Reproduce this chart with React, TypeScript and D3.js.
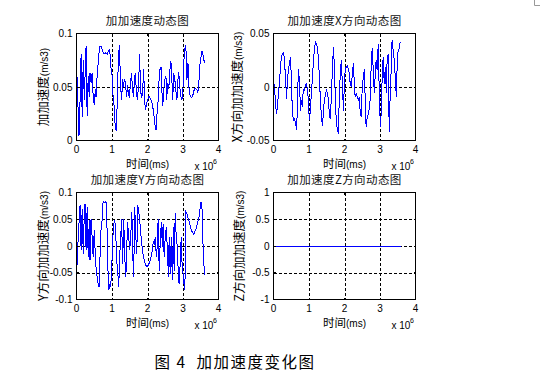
import React from "react";
import * as d3 from "d3";

// ---- data (time in units of 10^6 ms, jerk in m/s^3) ----
const jerkTotal: [number, number][] = [
  [0.00, 0.074], [0.07, 0.004], [0.09, 0.023], [0.13, 0.081], [0.16, 0.022], [0.19, 0.075], [0.22, 0.038], [0.24, 0.060],
  [0.27, 0.088], [0.30, 0.023], [0.33, 0.060], [0.36, 0.041], [0.38, 0.063], [0.41, 0.054], [0.44, 0.063], [0.47, 0.041],
  [0.50, 0.033], [0.53, 0.048], [0.55, 0.041], [0.58, 0.060], [0.61, 0.072], [0.65, 0.088], [0.69, 0.088], [0.73, 0.084],
  [0.78, 0.081], [0.83, 0.082], [0.87, 0.081], [0.92, 0.085], [0.95, 0.080], [0.98, 0.063], [1.01, 0.060], [1.03, 0.041],
  [1.07, 0.029], [1.09, 0.012], [1.12, 0.009], [1.15, 0.038], [1.18, 0.078], [1.21, 0.089], [1.24, 0.051], [1.27, 0.038],
  [1.30, 0.057], [1.32, 0.050], [1.35, 0.057], [1.38, 0.054], [1.41, 0.041], [1.44, 0.052], [1.46, 0.044], [1.49, 0.040],
  [1.52, 0.054], [1.55, 0.063], [1.58, 0.047], [1.61, 0.041], [1.63, 0.057], [1.66, 0.063], [1.69, 0.043], [1.72, 0.038],
  [1.75, 0.054], [1.78, 0.081], [1.80, 0.048], [1.83, 0.041], [1.86, 0.043], [1.89, 0.067], [1.92, 0.037], [1.94, 0.029],
  [1.97, 0.033], [2.00, 0.038], [2.04, 0.041], [2.07, 0.040], [2.13, 0.035], [2.17, 0.027], [2.21, 0.015], [2.24, 0.010],
  [2.26, 0.022], [2.29, 0.031], [2.32, 0.054], [2.35, 0.066], [2.38, 0.069], [2.40, 0.050], [2.43, 0.032], [2.46, 0.048],
  [2.49, 0.057], [2.52, 0.060], [2.54, 0.038], [2.57, 0.054], [2.60, 0.048], [2.63, 0.066], [2.66, 0.074], [2.69, 0.054],
  [2.71, 0.038], [2.74, 0.063], [2.77, 0.057], [2.80, 0.046], [2.83, 0.038], [2.85, 0.054], [2.88, 0.064], [2.91, 0.050],
  [2.94, 0.041], [2.97, 0.038], [3.00, 0.049], [3.02, 0.072], [3.05, 0.086], [3.08, 0.089], [3.11, 0.057], [3.14, 0.072],
  [3.16, 0.052], [3.19, 0.043], [3.23, 0.040], [3.27, 0.041], [3.30, 0.046], [3.34, 0.049], [3.38, 0.048], [3.42, 0.045],
  [3.46, 0.060], [3.48, 0.072], [3.51, 0.079], [3.54, 0.084], [3.56, 0.081], [3.59, 0.075], [3.61, 0.072],
];

const jerkX: [number, number][] = [
  [0.00, 0.008], [0.03, -0.002], [0.06, -0.016], [0.08, -0.025], [0.11, -0.019], [0.14, -0.006], [0.17, 0.006], [0.20, 0.019],
  [0.22, 0.028], [0.25, 0.031], [0.28, 0.032], [0.31, 0.026], [0.34, 0.006], [0.37, -0.011], [0.39, 0.006], [0.42, 0.016],
  [0.45, 0.023], [0.48, 0.028], [0.51, 0.000], [0.53, -0.022], [0.56, -0.031], [0.59, -0.030], [0.62, -0.034], [0.65, -0.040],
  [0.67, -0.022], [0.70, 0.017], [0.73, 0.006], [0.76, -0.022], [0.79, -0.012], [0.81, -0.019], [0.84, -0.002], [0.87, -0.003],
  [0.90, 0.002], [0.93, 0.003], [0.96, -0.003], [0.98, -0.012], [1.01, -0.031], [1.04, -0.022], [1.07, -0.003], [1.10, 0.009],
  [1.12, 0.022], [1.15, 0.034], [1.18, 0.042], [1.21, 0.040], [1.24, 0.037], [1.26, 0.028], [1.29, 0.012], [1.32, -0.012],
  [1.35, -0.028], [1.38, -0.036], [1.41, -0.022], [1.43, -0.012], [1.46, -0.008], [1.49, -0.003], [1.52, -0.006], [1.55, -0.012],
  [1.57, -0.025], [1.60, -0.030], [1.63, -0.009], [1.66, 0.019], [1.69, 0.037], [1.71, 0.022], [1.74, -0.009], [1.77, -0.034],
  [1.80, -0.039], [1.83, -0.044], [1.85, -0.012], [1.88, 0.012], [1.91, 0.025], [1.94, 0.003], [1.97, -0.022], [2.00, 0.006],
  [2.02, 0.016], [2.05, 0.019], [2.08, 0.020], [2.11, 0.016], [2.14, 0.012], [2.16, 0.003], [2.19, 0.000], [2.22, 0.012],
  [2.25, 0.022], [2.28, 0.000], [2.30, -0.009], [2.33, -0.006], [2.36, -0.009], [2.39, -0.012], [2.42, -0.009], [2.44, -0.022],
  [2.47, -0.028], [2.50, 0.000], [2.53, 0.009], [2.56, 0.017], [2.59, -0.022], [2.61, -0.037], [2.64, -0.028], [2.67, -0.026],
  [2.70, -0.019], [2.73, -0.009], [2.75, 0.019], [2.78, 0.036], [2.81, 0.016], [2.84, -0.006], [2.87, 0.014], [2.89, 0.025],
  [2.92, 0.016], [2.95, 0.040], [2.98, -0.006], [3.01, -0.037], [3.04, -0.022], [3.06, 0.009], [3.09, 0.028], [3.12, 0.003],
  [3.15, 0.019], [3.18, -0.006], [3.20, 0.025], [3.23, 0.031], [3.26, -0.042], [3.29, -0.003], [3.32, 0.019], [3.34, 0.044],
  [3.37, 0.034], [3.40, 0.026], [3.43, 0.009], [3.46, -0.009], [3.48, 0.016], [3.51, 0.034], [3.54, 0.036], [3.57, 0.042],
];

const jerkY: [number, number][] = [
  [0.00, -0.074], [0.02, -0.021], [0.05, 0.017], [0.07, 0.042], [0.10, 0.076], [0.13, -0.008], [0.16, 0.070], [0.19, -0.014],
  [0.22, 0.061], [0.24, 0.079], [0.27, -0.008], [0.30, 0.073], [0.33, -0.021], [0.36, 0.048], [0.38, -0.027], [0.41, 0.051],
  [0.44, 0.017], [0.47, -0.021], [0.50, 0.029], [0.52, -0.002], [0.55, -0.039], [0.58, -0.058], [0.61, -0.071], [0.64, -0.077],
  [0.67, -0.002], [0.69, 0.029], [0.72, 0.048], [0.75, 0.083], [0.79, 0.081], [0.82, 0.083], [0.85, 0.079], [0.87, -0.014],
  [0.89, -0.052], [0.91, -0.083], [0.94, -0.071], [0.96, -0.077], [0.99, -0.046], [1.02, 0.011], [1.05, 0.042], [1.08, 0.048],
  [1.11, 0.017], [1.13, -0.027], [1.16, -0.046], [1.19, -0.077], [1.22, -0.014], [1.25, 0.023], [1.27, 0.051], [1.30, -0.033],
  [1.33, 0.051], [1.36, -0.021], [1.39, -0.058], [1.41, -0.014], [1.44, 0.045], [1.47, 0.017], [1.50, -0.008], [1.53, 0.023],
  [1.56, 0.064], [1.58, -0.008], [1.61, -0.058], [1.64, 0.073], [1.67, 0.017], [1.70, -0.014], [1.72, 0.076], [1.75, 0.067],
  [1.78, 0.048], [1.81, 0.023], [1.84, 0.004], [1.86, -0.011], [1.89, -0.021], [1.92, -0.030], [1.95, -0.036], [1.99, -0.039],
  [2.02, -0.036], [2.06, -0.030], [2.10, -0.021], [2.14, -0.008], [2.16, 0.008], [2.19, 0.004], [2.22, 0.017], [2.25, -0.021],
  [2.28, 0.004], [2.30, 0.051], [2.33, -0.046], [2.36, 0.011], [2.39, 0.045], [2.42, -0.002], [2.44, 0.042], [2.47, -0.021],
  [2.50, 0.017], [2.53, 0.036], [2.56, -0.008], [2.59, -0.058], [2.61, 0.017], [2.64, -0.052], [2.67, 0.017], [2.70, -0.064],
  [2.73, 0.036], [2.75, -0.046], [2.78, 0.061], [2.81, 0.017], [2.84, -0.002], [2.87, -0.058], [2.89, -0.071], [2.92, -0.033],
  [2.95, 0.017], [2.98, -0.046], [3.01, -0.052], [3.04, -0.083], [3.06, -0.058], [3.08, 0.064], [3.11, 0.061], [3.15, 0.051],
  [3.19, 0.042], [3.22, 0.033], [3.26, 0.026], [3.30, 0.022], [3.33, 0.026], [3.37, 0.033], [3.41, 0.042], [3.45, 0.054],
  [3.48, 0.070], [3.51, 0.083], [3.54, 0.067], [3.57, -0.014], [3.60, -0.046], [3.62, -0.055],
];

const jerkZ: [number, number][] = [
  [0.0, 0], [3.6, 0],
];

const xTicks = [0, 1, 2, 3, 4];
const yTicksTotal = [0, 0.05, 0.1];
const yTicksX = [-0.05, 0, 0.05];
const yTicksY = [-0.1, -0.05, 0, 0.05, 0.1];
const yTicksZ = [-1, -0.5, 0, 0.5, 1];

const titles = ["加加速度动态图", "加加速度X方向动态图", "加加速度Y方向动态图", "加加速度Z方向动态图"];
const yLabelPrefix = ["加加速度", "X方向加加速度", "Y方向加加速度", "Z方向加加速度"];
const caption = "图 4  加加速度变化图";

const CJK = "'Noto Sans CJK SC', 'Noto Sans', sans-serif";
const LAT = "'Liberation Sans', Arial, sans-serif";

type PanelDef = {
  x0: number; x1: number; y0: number; y1: number;
  data: [number, number][];
  yDomain: [number, number];
  yTicks: number[];
  title: string;
  yPrefix: string;
  yLabelX: number;
};

const panels: PanelDef[] = [
  { x0: 76.5, x1: 218.5, y0: 33.5, y1: 140.5, data: jerkTotal, yDomain: [0, 0.1], yTicks: yTicksTotal, title: titles[0], yPrefix: yLabelPrefix[0], yLabelX: 42 },
  { x0: 273.5, x1: 415.5, y0: 33.5, y1: 140.5, data: jerkX, yDomain: [-0.05, 0.05], yTicks: yTicksX, title: titles[1], yPrefix: yLabelPrefix[1], yLabelX: 236 },
  { x0: 76.5, x1: 218.5, y0: 192.5, y1: 299.5, data: jerkY, yDomain: [-0.1, 0.1], yTicks: yTicksY, title: titles[2], yPrefix: yLabelPrefix[2], yLabelX: 42 },
  { x0: 273.5, x1: 415.5, y0: 192.5, y1: 299.5, data: jerkZ, yDomain: [-1, 1], yTicks: yTicksZ, title: titles[3], yPrefix: yLabelPrefix[3], yLabelX: 238 },
];

function fmt(v: number) {
  if (Math.abs(v) < 1e-9) return "0";
  return String(+v.toFixed(3));
}

function Panel({ p }: { p: PanelDef }) {
  const x = d3.scaleLinear().domain([0, 4]).range([p.x0, p.x1]);
  const y = d3.scaleLinear().domain(p.yDomain).range([p.y1, p.y0]);
  const line = d3.line<[number, number]>().x((d) => x(d[0])).y((d) => y(d[1]));
  const cx = (p.x0 + p.x1) / 2;
  const cy = (p.y0 + p.y1) / 2;
  const innerX = xTicks.filter((t) => t > 0 && t < 4);
  const innerY = p.yTicks.filter((t) => t > p.yDomain[0] && t < p.yDomain[1]);
  return (
    <g>
      {innerX.map((t) => (
        <line key={"gx" + t} x1={Math.round(x(t)) + 0.5} x2={Math.round(x(t)) + 0.5} y1={p.y0} y2={p.y1}
          stroke="#000" strokeWidth={1} strokeDasharray="3,2" shapeRendering="crispEdges" />
      ))}
      {innerY.map((t) => (
        <line key={"gy" + t} y1={Math.round(y(t)) + 0.5} y2={Math.round(y(t)) + 0.5} x1={p.x0} x2={p.x1}
          stroke="#000" strokeWidth={1} strokeDasharray="3,2" shapeRendering="crispEdges" />
      ))}
      <path d={line(p.data) || ""} fill="none" stroke="#0000ff" strokeWidth={1} shapeRendering="crispEdges" />
      {xTicks.map((t) => (
        <g key={"tx" + t}>
          <line x1={x(t)} x2={x(t)} y1={p.y1} y2={p.y1 - 2} stroke="#000" shapeRendering="crispEdges" />
          <line x1={x(t)} x2={x(t)} y1={p.y0} y2={p.y0 + 2} stroke="#000" shapeRendering="crispEdges" />
          <text x={x(t)} y={p.y1 + 12} textAnchor="middle" fontFamily={LAT} fontSize={10} fill="#000">{t}</text>
        </g>
      ))}
      {p.yTicks.map((t) => (
        <g key={"ty" + t}>
          <line x1={p.x0} x2={p.x0 + 2} y1={y(t)} y2={y(t)} stroke="#000" shapeRendering="crispEdges" />
          <line x1={p.x1} x2={p.x1 - 2} y1={y(t)} y2={y(t)} stroke="#000" shapeRendering="crispEdges" />
          <text x={p.x0 - 4} y={y(t)} dy="0.36em" textAnchor="end" fontFamily={LAT} fontSize={10} fill="#000">{fmt(t)}</text>
        </g>
      ))}
      <rect x={p.x0} y={p.y0} width={p.x1 - p.x0} height={p.y1 - p.y0} fill="none" stroke="#000" strokeWidth={1} shapeRendering="crispEdges" />
      <text x={cx} y={p.y0 - 9} textAnchor="middle" fontFamily={CJK} fontSize={11.5} letterSpacing={0.4} fill="#111">{p.title}</text>
      <text x={cx} y={p.y1 + 27} textAnchor="middle" fill="#000">
        <tspan fontFamily={CJK} fontSize={11.5}>时间</tspan>
        <tspan fontFamily={LAT} fontSize={10}>(ms)</tspan>
      </text>
      <text x={p.x1 - 24} y={p.y1 + 29.5} fontFamily={LAT} fontSize={10} fill="#000">x 10</text>
      <text x={p.x1 - 5.5} y={p.y1 + 23} fontFamily={LAT} fontSize={7} fill="#000">6</text>
      <text transform={`translate(${p.yLabelX},${cy}) rotate(-90)`} textAnchor="middle" dy="0.35em" fill="#000">
        <tspan fontFamily={CJK} fontSize={12.5}>{p.yPrefix}</tspan>
        <tspan fontFamily={LAT} fontSize={10}>(m/s3)</tspan>
      </text>
    </g>
  );
}

export default function App() {
  return (
    <svg width={540} height={386} style={{ position: "absolute", left: 0, top: 0, background: "#fff" }}>
      <rect x={0} y={0} width={540} height={386} fill="#fff" />
      <path d="M534.5,0 V5.5 H540" fill="none" stroke="#999" strokeWidth={1} />
      {panels.map((p, i) => <Panel key={i} p={p} />)}
      <text x={235} y={368} textAnchor="middle" fontFamily={CJK} fontSize={15.5} letterSpacing={1.5} fill="#000" style={{ whiteSpace: "pre" }}>{caption}</text>
    </svg>
  );
}
